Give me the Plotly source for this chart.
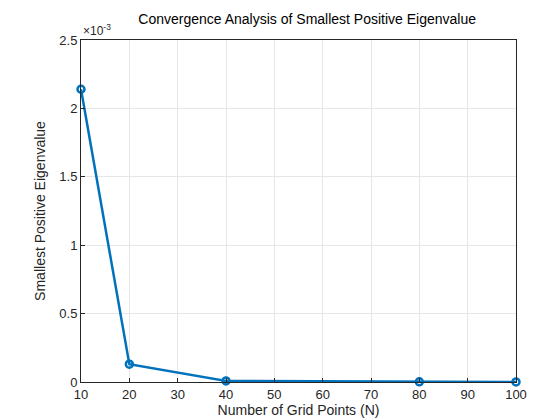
import plotly.graph_objects as go

grid_points = [10, 20, 40, 80, 100]
eigen_vals = [2.14e-3, 0.13e-3, 0.008e-3, 0.001e-3, 0.0005e-3]
y_ticks = [0, 0.5e-3, 1e-3, 1.5e-3, 2e-3, 2.5e-3]
y_tick_text = ['0', '0.5', '1', '1.5', '2', '2.5']

fig = go.Figure()
fig.add_trace(go.Scatter(
    x=grid_points, y=eigen_vals, mode='lines+markers',
    line=dict(color='#0072BD', width=2.5),
    marker=dict(symbol='circle-open', size=7, color='#0072BD', line=dict(width=2.5)),
    showlegend=False, cliponaxis=False,
))

axis_style = dict(showline=True, linecolor='#262626', mirror=True, ticks='inside',
                  ticklen=4, tickcolor='#262626', gridcolor='#E6E6E6', zeroline=False,
                  automargin=False, tickfont=dict(size=13, color='#262626'))
fig.update_xaxes(range=[10, 100], dtick=10, title=dict(text='Number of Grid Points (N)', font=dict(size=14, color='#262626'), standoff=4), **axis_style)
fig.update_yaxes(range=[0, 2.5e-3], tickvals=y_ticks, ticktext=y_tick_text,
                 title=dict(text='Smallest Positive Eigenvalue', font=dict(size=14, color='#262626'), standoff=10), **axis_style)

fig.update_layout(
    width=560, height=420,
    margin=dict(l=73, r=52, t=32, b=46),
    plot_bgcolor='white', paper_bgcolor='white',
    font=dict(family='Liberation Sans, Arial', color='#262626'),
    title=dict(text='Convergence Analysis of Smallest Positive Eigenvalue',
               xref='paper', x=0.52, xanchor='center', y=0.985, yanchor='top', font=dict(size=14, color='#000000')),
    annotations=[dict(text='×10<sup>-3</sup>', xref='paper', yref='paper', x=0, y=1.0,
                      xanchor='left', yanchor='bottom', showarrow=False, font=dict(size=12, color='#262626'))],
)

fig.write_html('out.html')
